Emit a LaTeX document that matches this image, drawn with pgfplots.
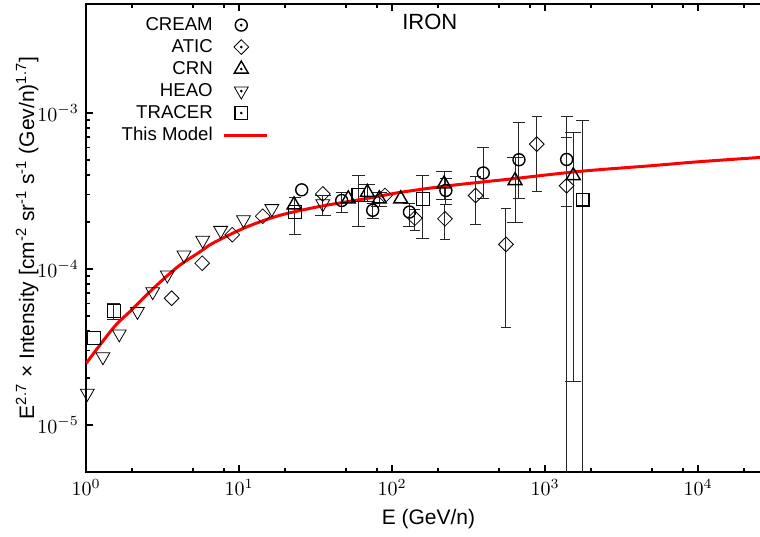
\documentclass[border=0pt]{standalone}
\usepackage{fontspec}
\setmainfont{Liberation Sans}
\usepackage{pgfplots}
\usepackage{pgfplotstable}
\pgfplotsset{compat=1.18}

% x y ep em
\pgfplotstableread{
x     y        ep       em
46.9  2.75e-4  0.35e-4  0.43e-4
74.8  2.38e-4  0.25e-4  0.28e-4
130   2.32e-4  0.30e-4  0.43e-4
225   3.19e-4  0.60e-4  0.60e-4
395   4.13e-4  1.88e-4  1.31e-4
676   5.02e-4  3.65e-4  2.20e-4
1385  5.04e-4  4.46e-4  5.039e-4
}\creamerr
\pgfplotstableread{
x     y
25.7  3.22e-4
}\cream

\pgfplotstableread{
x     y        ep       em
141   2.12e-4  0.30e-4  0.35e-4
222   2.10e-4  0.50e-4  0.55e-4
352   2.96e-4  0.98e-4  1.02e-4
556   1.44e-4  1.02e-4  1.02e-4
883   6.32e-4  3.15e-4  3.17e-4
1385  3.42e-4  3.55e-4  0.90e-4
}\aticerr
\pgfplotstableread{
x     y
3.63  6.5e-5
5.75  1.09e-4
9.04  1.66e-4
14.3  2.18e-4
35.3  3.03e-4
90    2.96e-4
}\atic

\pgfplotstableread{
x     y        ep       em
69    3.10e-4  0.37e-4  0.37e-4
82.6  2.82e-4  0.30e-4  0.30e-4
219   3.51e-4  0.70e-4  0.70e-4
637   3.69e-4  1.50e-4  1.69e-4
1531  3.97e-4  3.52e-4  3.78e-4
}\crnerr
\pgfplotstableread{
x     y
22.9  2.58e-4
51.8  2.82e-4
114   2.82e-4
}\crn

\pgfplotstableread{
x     y        ep       em
35.3  2.62e-4  0.35e-4  0.41e-4
}\heaoerr
\pgfplotstableread{
x     y
1.02  1.60e-5
1.29  2.74e-5
1.65  3.84e-5
2.17  5.35e-5
2.73  7.16e-5
3.40  9.16e-5
4.37  1.23e-4
5.79  1.53e-4
7.59  1.77e-4
10.7  2.07e-4
16.4  2.44e-4
}\heao

\pgfplotstableread{
x     y        ep       em
1.52  5.39e-5  0.66e-5  0.60e-5
23.2  2.32e-4  0.57e-4  0.66e-4
60.2  2.99e-4  1.02e-4  1.10e-4
159   2.82e-4  1.19e-4  1.25e-4
1763  2.78e-4  6.20e-4  2.779e-4
}\tracererr
\pgfplotstableread{
x     y
1.13  3.62e-5
}\tracer

\pgfplotsset{
  pt/.style={only marks, mark options={solid, black, line width=0.7pt, fill=none}},
  eb/.style={error bars/.cd, y dir=both, y explicit},
  dotleg/.style={legend image code/.code={
    \draw[mark repeat=2, mark phase=2, ##1] plot coordinates {(0cm,0cm) (0.3cm,0cm) (0.6cm,0cm)};
    \fill[black] (0.3cm,0cm) circle (0.45pt);}},
  modelleg/.style={legend image code/.code={\draw[##1] (0pt,0pt) -- (21.5pt,0pt);}},
}

\begin{document}
\begin{tikzpicture}
\begin{axis}[
  scale only axis, width=342.5pt, height=234pt,
  xmode=log, ymode=log,
  xmin=1, xmax=3e4, ymin=5e-6, ymax=5e-3,
  xtick={1,10,100,1000,10000},
  minor xtick={2,5,8,20,50,80,200,500,800,2000,5000,8000,20000},
  ytick={1e-5,1e-4,1e-3},
  axis line style={line width=1pt},
  major tick style={line width=1pt, black},
  minor tick style={line width=0.8pt, black},
  major tick length=3.5pt, minor tick length=2pt,
  tick align=inside,
  ticklabel style={font=\fontsize{10}{12}\selectfont},
  label style={font=\fontsize{10.5}{12}\selectfont},
  xlabel={E (GeV/n)},
  ylabel={E\textsuperscript{2.7} × Intensity [cm\textsuperscript{-2} sr\textsuperscript{-1} s\textsuperscript{-1} (Gev/n)\textsuperscript{1.7}]},
  ylabel style={at={(axis description cs:-0.086,0.5)}, anchor=center},
  legend style={draw=none, fill=none, at={(0.037,0.99)}, anchor=north west,
    font=\fontsize{9.3}{11}\selectfont, row sep=-1pt,
    /tikz/every odd column/.append style={column sep=3pt}},
  legend cell align=right, legend plot pos=right,
  error bars/error bar style={line width=0.5pt, black!85},
]
\addplot[pt, dotleg, mark=o, mark size=3pt, eb] table[x=x, y=y, y error plus=ep, y error minus=em] {\creamerr};
\addlegendentry{CREAM}
\addplot[pt, mark=o, mark size=3pt, forget plot] table[x=x, y=y] {\cream};

\addplot[pt, dotleg, mark=square, mark size=2.6pt, mark options={rotate=45}, eb] table[x=x, y=y, y error plus=ep, y error minus=em] {\aticerr};
\addlegendentry{ATIC}
\addplot[pt, mark=square, mark size=2.6pt, mark options={rotate=45}, forget plot] table[x=x, y=y] {\atic};

\addplot[pt, dotleg, mark=triangle, mark size=4pt, eb] table[x=x, y=y, y error plus=ep, y error minus=em] {\crnerr};
\addlegendentry{CRN}
\addplot[pt, mark=triangle, mark size=4pt, forget plot] table[x=x, y=y] {\crn};

\addplot[pt, dotleg, mark=triangle, mark size=4pt, mark options={rotate=180}, eb] table[x=x, y=y, y error plus=ep, y error minus=em] {\heaoerr};
\addlegendentry{HEAO}
\addplot[pt, mark=triangle, mark size=4pt, mark options={rotate=180}, forget plot] table[x=x, y=y] {\heao};

\addplot[pt, dotleg, mark=square, mark size=3.2pt, eb] table[x=x, y=y, y error plus=ep, y error minus=em] {\tracererr};
\addlegendentry{TRACER}
\addplot[pt, mark=square, mark size=3.2pt, forget plot] table[x=x, y=y] {\tracer};

\addplot[red, line width=1.5pt, smooth, no marks, modelleg] coordinates {
  (1.0,2.48e-5) (1.51,4.2e-5) (1.94,5.35e-5) (2.49,6.83e-5) (3.20,8.6e-5)
  (4.11,1.06e-4) (5.56,1.29e-4) (6.79,1.47e-4) (11.2,1.86e-4) (18.5,2.21e-4)
  (33.8,2.52e-4) (66.6,2.82e-4) (113,3.1e-4) (239,3.43e-4) (600,3.78e-4)
  (1694,4.23e-4) (5000,4.6e-4) (10000,4.87e-4) (30000,5.25e-4)
};
\addlegendentry{This Model}

\node[font=\fontsize{11}{12}\selectfont] at (rel axis cs:0.502,0.962) {IRON};
\end{axis}
\pgfresetboundingbox
\useasboundingbox (-43pt,-32pt) rectangle (337pt,236pt);
\end{tikzpicture}
\end{document}
